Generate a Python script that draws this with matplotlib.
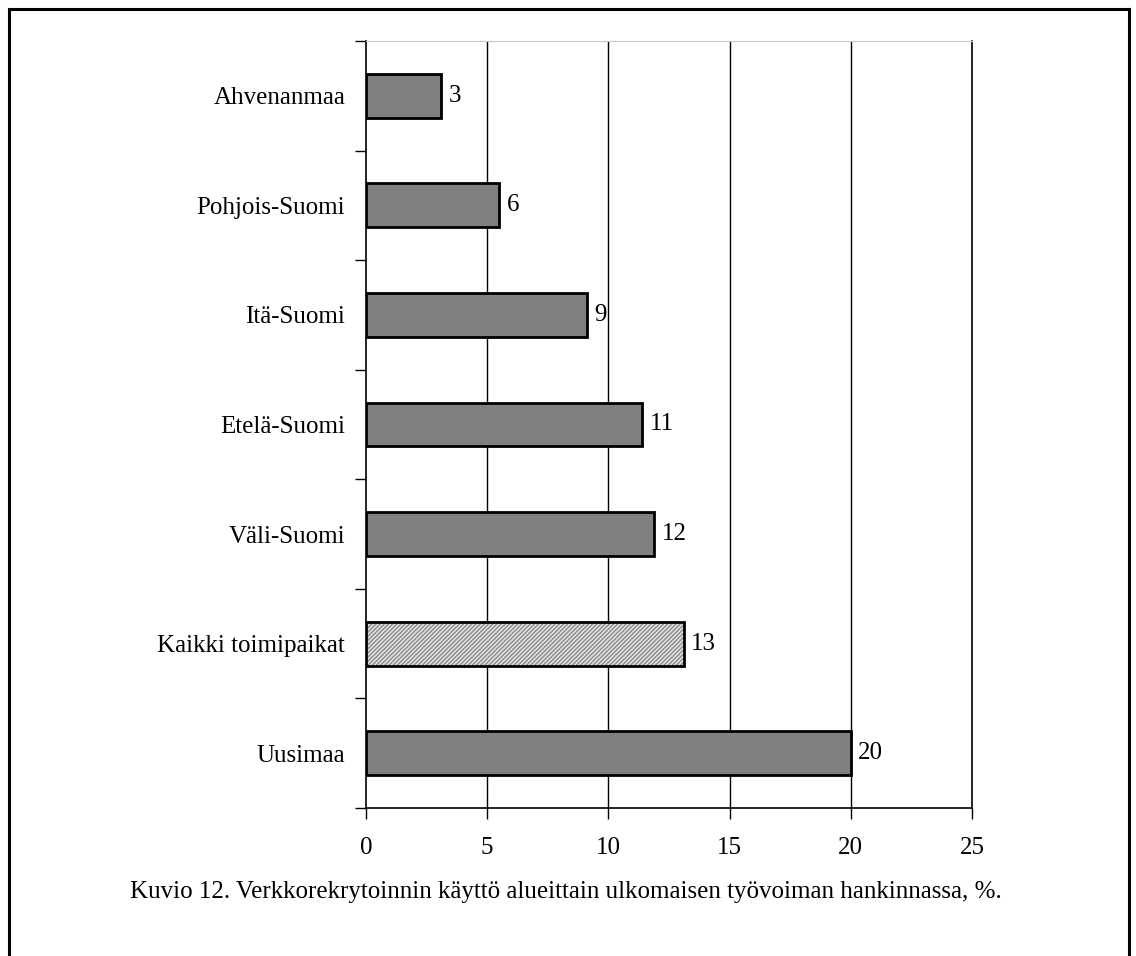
import numpy as np
import matplotlib
matplotlib.use("Agg")
import matplotlib.pyplot as plt
from matplotlib.lines import Line2D

plt.rcParams['font.family'] = ['Liberation Serif', 'DejaVu Serif']

# Alueet ylhäältä alas ja verkkorekrytoinnin osuus (%)
alueet = ['Ahvenanmaa', 'Pohjois-Suomi', 'Itä-Suomi', 'Etelä-Suomi',
          'Väli-Suomi', 'Kaikki toimipaikat', 'Uusimaa']
osuudet = [3.1, 5.5, 9.1, 11.4, 11.9, 13.1, 20.0]
x_ticks = [0, 5, 10, 15, 20, 25]
otsikko = 'Kuvio 12. Verkkorekrytoinnin käyttö alueittain ulkomaisen työvoiman hankinnassa, %.'

fig = plt.figure(figsize=(11.36, 9.56), dpi=100)
ax = fig.add_axes([366 / 1136, 1 - 808 / 956, (972 - 366) / 1136, (808 - 41) / 956])

y = np.arange(len(alueet))
kaikki = alueet.index('Kaikki toimipaikat')

for i, (nimi, arvo) in enumerate(zip(alueet, osuudet)):
    if i == kaikki:
        # Kaikki toimipaikat: vaalea rasteripalkki
        ax.barh(y[i], arvo, height=0.4, color='#e4e4e4', edgecolor='#8a8a8a',
                hatch='////////', linewidth=0, zorder=3)
        ax.barh(y[i], arvo, height=0.4, fill=False, edgecolor='black',
                linewidth=2.0, zorder=4)
    else:
        ax.barh(y[i], arvo, height=0.4, color='#808080', edgecolor='black',
                linewidth=2.0, zorder=3)
    ax.text(arvo + 0.3, y[i], '%.0f' % arvo, va='center', ha='left', fontsize=18)

ax.set_xlim(0, 25)
ax.set_ylim(len(alueet) - 0.5, -0.5)
ax.set_xticks(x_ticks)
ax.set_xticklabels([str(t) for t in x_ticks], fontsize=18)
ax.set_yticks(y)
ax.set_yticklabels(alueet, fontsize=18)
ax.set_yticks(np.arange(len(alueet) + 1) - 0.5, minor=True)
ax.tick_params(axis='y', which='major', length=0, pad=15)
ax.tick_params(axis='y', which='minor', length=8, width=1.0, direction='out')
ax.tick_params(axis='x', length=8, width=1.0, direction='out', pad=13)

for g in x_ticks[1:-1]:
    ax.axvline(g, color='black', linewidth=1.0, zorder=1)

ax.spines['top'].set_color('#c8c8c8')
for s in ['left', 'bottom', 'right']:
    ax.spines[s].set_color('black')
    ax.spines[s].set_linewidth(1.2)

fig.text(566 / 1136, 1 - 892 / 956, otsikko, ha='center', va='center', fontsize=18)

# Kehys kuvion ympärillä (alareuna jää pois)
x0, x1, ytop = 9 / 1136, 1129 / 1136, 1 - 9 / 956
fig.add_artist(Line2D([x0, x0], [0, ytop], color='black', linewidth=2.2))
fig.add_artist(Line2D([x0, x1], [ytop, ytop], color='black', linewidth=2.2))
fig.add_artist(Line2D([x1, x1], [0, ytop], color='black', linewidth=2.2))

fig.savefig('out.png', dpi=100)
